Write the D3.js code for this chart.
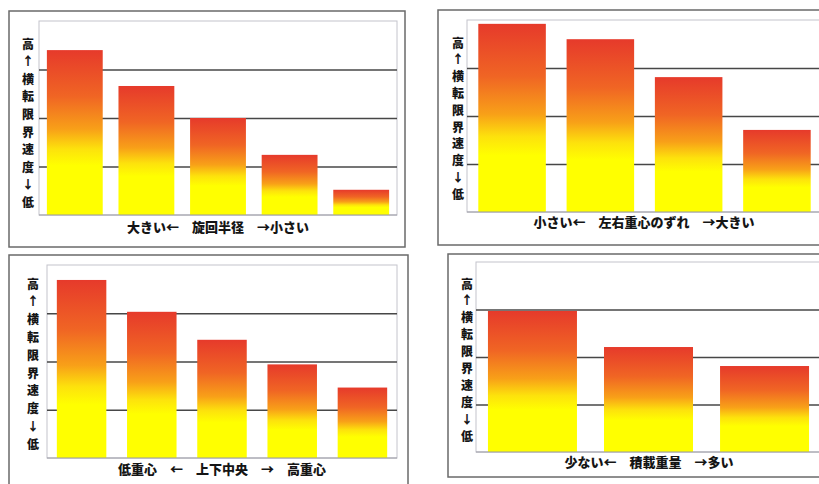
<!DOCTYPE html>
<html>
<head>
<meta charset="utf-8">
<script src="https://cdn.jsdelivr.net/npm/d3@7"></script>
<style>
  body { margin: 0; background: #fff; }
  svg { display: block; }
  text { font-family: "Noto Sans CJK JP", "Noto Sans", sans-serif; font-weight: bold; fill: #151515; }
</style>
</head>
<body>
<svg id="chart" width="819" height="484"></svg>
<script>
// chart values (grid units, 0..4)
var turnRadiusCats = ["r1", "r2", "r3", "r4", "r5"];
var turnRadiusValues = [3.40, 2.66, 2.00, 1.24, 0.52];

var lateralCats = ["l1", "l2", "l3", "l4"];
var lateralValues = [3.92, 3.60, 2.81, 1.71];

var heightCats = ["h1", "h2", "h3", "h4", "h5"];
var heightValues = [3.69, 3.03, 2.45, 1.94, 1.46];

var loadCats = ["w1", "w2", "w3"];
var loadValues = [2.97, 2.21, 1.81];

var yLabel = ["高", "↑", "横", "転", "限", "界", "速", "度", "↓", "低"];
var xLabels = [
    "大きい←　旋回半径　→小さい",
    "小さい←　左右重心のずれ　→大きい",
    "低重心　←　上下中央　→　高重心",
    "少ない←　積載重量　→多い"
];
var gridTicks = [1, 2, 3];

// panel layout (pixels)
var panels = [
    { cats: turnRadiusCats, values: turnRadiusValues, label: xLabels[0],
      box: [9, 11, 396, 236], plot: [39, 21, 397, 215], pi: 0.22, po: 0.11,
      yl: [28, 43, 17.6], xl: [218, 232] },
    { cats: lateralCats, values: lateralValues, label: xLabels[1],
      box: [438, 10, 400, 235], plot: [467, 20, 822, 212], pi: 0.235, po: 0.128,
      yl: [458, 42, 16.8], xl: [644, 227] },
    { cats: heightCats, values: heightValues, label: xLabels[2],
      box: [9, 255, 399, 240], plot: [47, 265, 397, 458], pi: 0.295, po: 0.14,
      yl: [33, 283, 17.8], xl: [222, 474] },
    { cats: loadCats, values: loadValues, label: xLabels[3],
      box: [448, 254, 390, 223], plot: [476, 262, 821, 452], pi: 0.233, po: 0.103,
      yl: [467, 283, 16.9], xl: [649, 467] }
];

var svg = d3.select("#chart");

// bar gradient: red top, orange, yellow lower half
var grad = svg.append("defs").append("linearGradient")
    .attr("id", "barGrad")
    .attr("x1", 0).attr("y1", 0).attr("x2", 0).attr("y2", 1);
[[0, "#e63a2b"], [0.28, "#f06524"], [0.48, "#f8a018"], [0.6, "#fde20c"], [0.7, "#ffff00"], [1, "#ffff00"]]
    .forEach(function (s) {
        grad.append("stop").attr("offset", s[0]).attr("stop-color", s[1]);
    });

panels.forEach(function (p) {
    var g = svg.append("g");

    // outer frame
    g.append("rect")
        .attr("x", p.box[0]).attr("y", p.box[1])
        .attr("width", p.box[2]).attr("height", p.box[3])
        .attr("fill", "none").attr("stroke", "#6a6a6a").attr("stroke-width", 1.5);

    var x = d3.scaleBand()
        .domain(p.cats)
        .range([p.plot[0], p.plot[2]])
        .paddingInner(p.pi)
        .paddingOuter(p.po);

    var y = d3.scaleLinear()
        .domain([0, 4])
        .range([p.plot[3], p.plot[1]]);

    // plot area frame
    g.append("rect")
        .attr("x", p.plot[0]).attr("y", y(4))
        .attr("width", p.plot[2] - p.plot[0]).attr("height", y(0) - y(4))
        .attr("fill", "none").attr("stroke", "#c4c4cc").attr("stroke-width", 1);

    // gridlines
    g.append("g")
        .attr("transform", "translate(" + p.plot[0] + ",0)")
        .call(d3.axisLeft(y).tickValues(gridTicks).tickSize(-(p.plot[2] - p.plot[0])).tickFormat(""))
        .call(function (a) {
            a.select(".domain").remove();
            a.selectAll("line").attr("stroke", "#474747").attr("stroke-width", 1.3);
        });

    // bars
    g.selectAll(".bar")
        .data(p.values)
        .enter().append("rect")
        .attr("class", "bar")
        .attr("x", function (d, i) { return x(p.cats[i]); })
        .attr("y", function (d) { return y(d); })
        .attr("width", x.bandwidth())
        .attr("height", function (d) { return y(0) - y(d); })
        .attr("fill", "url(#barGrad)");

    // baseline
    g.append("line")
        .attr("x1", p.plot[0]).attr("x2", p.plot[2])
        .attr("y1", y(0)).attr("y2", y(0))
        .attr("stroke", "#9a9aa4").attr("stroke-width", 1.2);

    // vertical y label
    g.selectAll(".ylab")
        .data(yLabel)
        .enter().append("text")
        .attr("class", "ylab")
        .attr("x", p.yl[0])
        .attr("y", function (d, i) { return p.yl[1] + i * p.yl[2]; })
        .attr("text-anchor", "middle")
        .attr("dominant-baseline", "central")
        .style("font-size", "12px")
        .style("font-weight", 900)
        .text(function (d) { return d; });

    // x label
    g.append("text")
        .attr("x", p.xl[0]).attr("y", p.xl[1])
        .attr("text-anchor", "middle")
        .style("font-size", "13px")
        .style("font-weight", 900)
        .text(p.label);
});
</script>
</body>
</html>
